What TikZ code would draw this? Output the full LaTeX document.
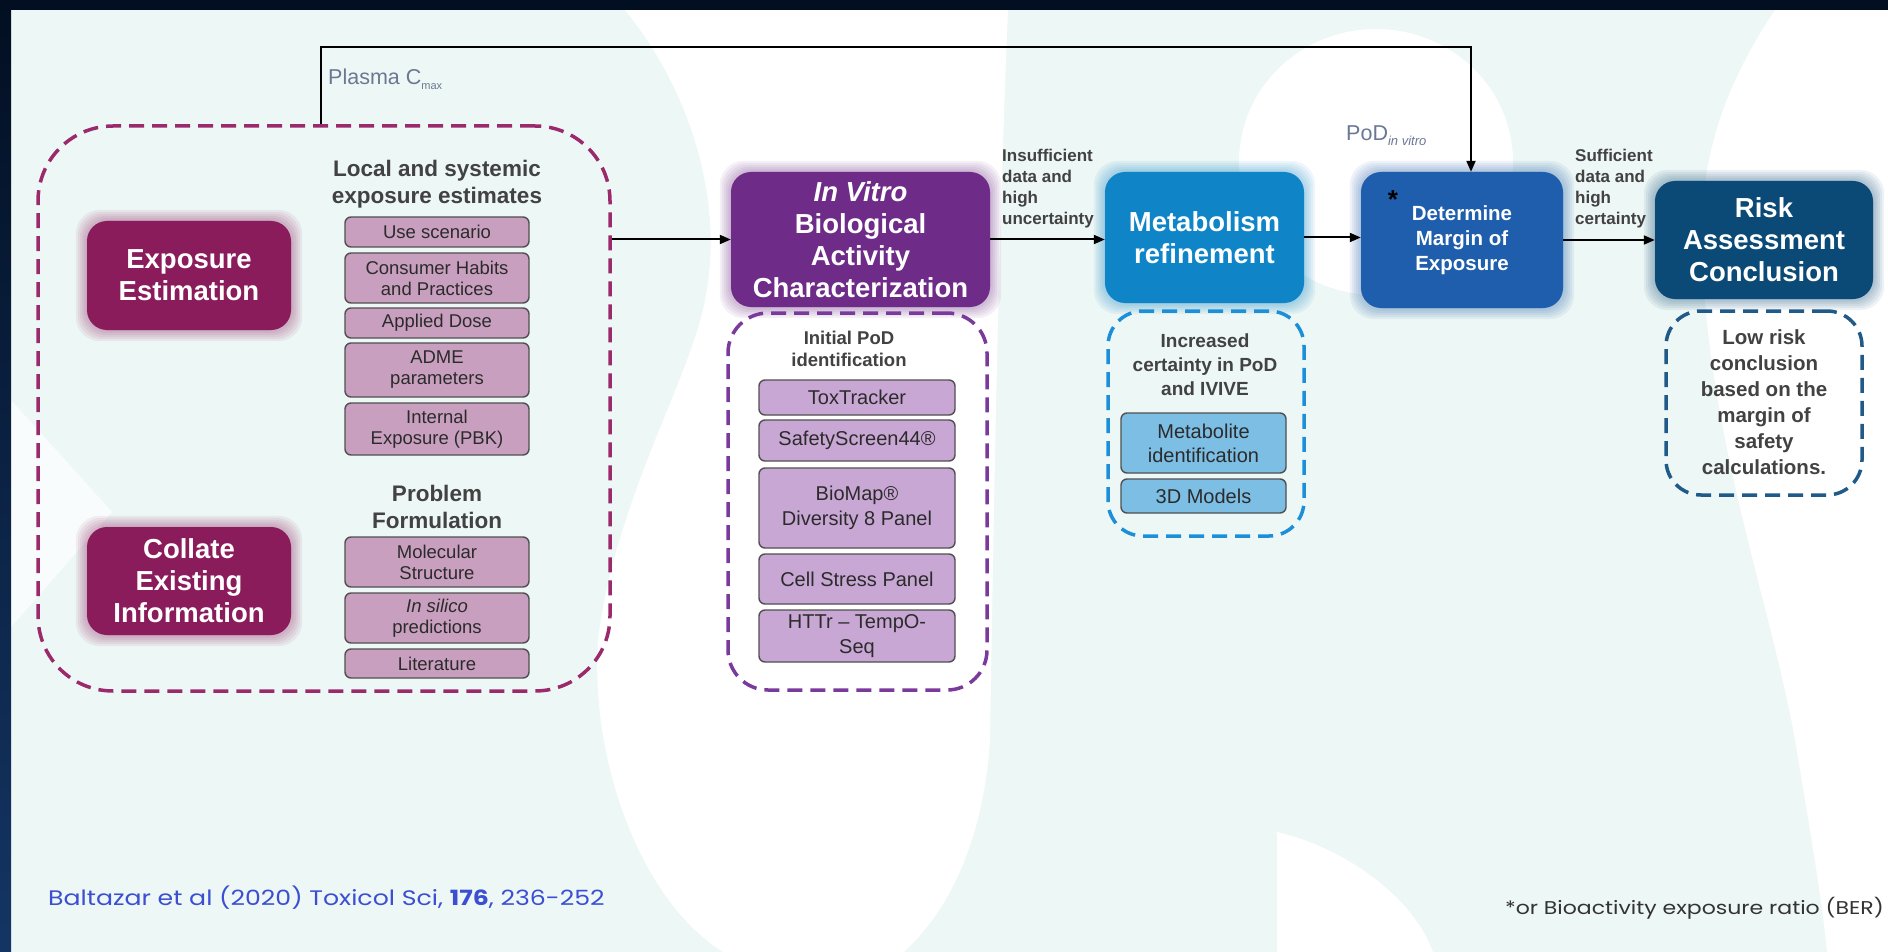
\documentclass[tikz,border=0pt]{standalone}
\usepackage{fontspec}
\setmainfont{Liberation Sans}
\newfontfamily\footfont{Poppins}
\usetikzlibrary{arrows.meta,calc}

\definecolor{bgmint}{HTML}{EDF7F5}
\definecolor{framenavy}{HTML}{020F22}
\definecolor{framelow}{HTML}{143564}
\definecolor{expfill}{HTML}{8A1C5C}
\definecolor{vitrofill}{HTML}{6E2B88}
\definecolor{metafill}{HTML}{0F85C8}
\definecolor{detfill}{HTML}{1F5EAC}
\definecolor{riskfill}{HTML}{0B4A76}
\definecolor{expdash}{HTML}{9B2A6C}
\definecolor{vitrodash}{HTML}{7A3A9C}
\definecolor{metadash}{HTML}{1B8FD8}
\definecolor{riskdash}{HTML}{1F5A88}
\definecolor{expitem}{HTML}{C99FBF}
\definecolor{vitroitem}{HTML}{C9A7D4}
\definecolor{metaitem}{HTML}{7DBEE5}
\definecolor{itemline}{HTML}{505050}
\definecolor{itemtext}{HTML}{2B2B2B}
\definecolor{headgray}{HTML}{424242}
\definecolor{labelgray}{HTML}{6B7893}
\definecolor{citeblue}{HTML}{3C4FD2}
\definecolor{foottext}{HTML}{333333}

\pgfdeclarelayer{under}
\pgfsetlayers{under,main}

% soft coloured halo behind a box
\newcommand{\halo}[2]{%
  \begin{pgfonlayer}{under}
    \foreach \d in {11,9,7,5,3,1} {
      \fill[#2, opacity=0.07, rounded corners=24pt]
        ($(#1.north west)+(-\d,-\d)$) rectangle ($(#1.south east)+(\d,\d)$);
    }
  \end{pgfonlayer}}

\tikzset{
  bigbox/.style={rectangle, rounded corners=20pt, inner sep=0pt, align=center,
    text=white, font=\bfseries\fontsize{27.5}{32}\selectfont},
  item/.style={rectangle, draw=itemline, line width=1.4pt, rounded corners=6pt,
    inner sep=0pt, align=center, text=itemtext},
  grp/.style={rectangle, draw, line width=3.5pt, dash pattern=on 15pt off 8pt,
    inner sep=0pt},
  head/.style={align=center, text=headgray, inner sep=0pt},
  cond/.style={align=left, text=headgray, inner sep=0pt,
    font=\bfseries\fontsize{17}{21}\selectfont},
  flow/.style={-{Triangle[length=11pt,width=9pt]}, line width=2pt, draw=black},
}

\begin{document}
\begin{tikzpicture}[x=1pt,y=-1pt]
\useasboundingbox (0,0) rectangle (1888,952);

% ---------- background ----------
\begin{pgfonlayer}{under}
  \fill[bgmint] (0,0) rectangle (1888,952);
  \fill[white] (625,10) .. controls (690,90) and (725,200) .. (705,300)
    .. controls (690,380) and (615,500) .. (598,640)
    .. controls (590,760) and (640,900) .. (723,952) -- (904,952)
    .. controls (960,900) and (985,820) .. (990,740)
    .. controls (994,500) and (998,250) .. (1008,10) -- cycle;
  \fill[white] (1376,162) ellipse [x radius=137, y radius=133];
  \fill[white] (1775,10) .. controls (1735,70) and (1702,140) .. (1702,230)
    .. controls (1702,420) and (1770,600) .. (1795,740)
    .. controls (1810,830) and (1822,900) .. (1827,952)
    -- (1888,952) -- (1888,10) -- cycle;
  \fill[white] (1277,952) -- (1277,832) .. controls (1335,845) and (1410,890) .. (1433,952) -- cycle;
  \fill[white, opacity=0.7] (11,400) -- (112,512) -- (11,627) -- cycle;
  \fill[framenavy] (0,0) rectangle (1888,10);
  \shade[top color=framenavy, bottom color=framelow] (0,0) rectangle (11,952);
\end{pgfonlayer}

% ---------- exposure column ----------
\node[grp, draw=expdash, rounded corners=75pt, minimum width=572pt, minimum height=565pt]
  (expgrp) at (324,408.5) {};
\node[bigbox, fill=expfill, minimum width=204pt, minimum height=109pt]
  (expo) at (189,275.5) {Exposure\\Estimation};
\node[bigbox, fill=expfill, minimum width=204pt, minimum height=108pt]
  (collate) at (189,581) {Collate\\Existing\\Information};
\halo{expo}{expfill}
\halo{collate}{expfill}

\node[head, font=\bfseries\fontsize{22.5}{27.5}\selectfont] (localhead) at (437,184)
  {Local and systemic\\exposure estimates};
\tikzset{expitemstyle/.style={item, fill=expitem, minimum width=184pt,
  font=\fontsize{18.5}{21}\selectfont}}
\node[expitemstyle, minimum height=30pt] (use) at (437,232) {Use scenario};
\node[expitemstyle, minimum height=50pt] (habits) at (437,278) {Consumer Habits\\and Practices};
\node[expitemstyle, minimum height=30pt] (dose) at (437,323) {Applied Dose};
\node[expitemstyle, minimum height=54pt] (adme) at (437,370) {ADME\\parameters};
\node[expitemstyle, minimum height=52pt] (pbk) at (437,429) {Internal\\Exposure (PBK)};

\node[head, font=\bfseries\fontsize{22.5}{27.5}\selectfont] (probhead) at (437,507)
  {Problem\\Formulation};
\node[expitemstyle, minimum height=50pt] (mol) at (437,562) {Molecular\\Structure};
\node[expitemstyle, minimum height=50pt] (silico) at (437,618) {\textit{In silico}\\predictions};
\node[expitemstyle, minimum height=29pt] (lit) at (437,663.5) {Literature};

% ---------- in vitro column ----------
\node[bigbox, fill=vitrofill, minimum width=259pt, minimum height=135pt]
  (vitro) at (860.5,239.5) {\textit{In Vitro}\\Biological\\Activity\\Characterization};
\halo{vitro}{vitrofill}
\node[grp, draw=vitrodash, rounded corners=40pt, minimum width=259pt, minimum height=377pt]
  (vitrogrp) at (857.5,501.5) {};
\node[head, font=\bfseries\fontsize{18.5}{22}\selectfont] (podhead) at (849,349)
  {Initial PoD\\identification};
\tikzset{vitroitemstyle/.style={item, fill=vitroitem, minimum width=196pt,
  font=\fontsize{20}{25}\selectfont}}
\node[vitroitemstyle, minimum height=35pt] (tox) at (857,397.5) {ToxTracker};
\node[vitroitemstyle, minimum height=41pt] (safety) at (857,440.5) {SafetyScreen44®};
\node[vitroitemstyle, minimum height=80pt] (biomap) at (857,508) {BioMap®\\Diversity 8 Panel};
\node[vitroitemstyle, minimum height=50pt] (stress) at (857,579) {Cell Stress Panel};
\node[vitroitemstyle, minimum height=52pt] (httr) at (857,636) {HTTr – TempO-\\Seq};

% ---------- metabolism column ----------
\node[bigbox, fill=metafill, minimum width=199pt, minimum height=131pt]
  (meta) at (1204.5,237.5) {Metabolism\\refinement};
\halo{meta}{metafill}
\node[grp, draw=metadash, rounded corners=35pt, minimum width=196pt, minimum height=225pt]
  (metagrp) at (1206,423.5) {};
\node[head, font=\bfseries\fontsize{19}{24}\selectfont] (certhead) at (1205,365)
  {Increased\\certainty in PoD\\and IVIVE};
\tikzset{metaitemstyle/.style={item, fill=metaitem, minimum width=165pt,
  font=\fontsize{20}{24}\selectfont}}
\node[metaitemstyle, minimum height=60pt] (metid) at (1203.5,443) {Metabolite\\identification};
\node[metaitemstyle, minimum height=34pt] (models) at (1203.5,496) {3D Models};

% ---------- margin of exposure ----------
\node[bigbox, fill=detfill, minimum width=202pt, minimum height=136pt,
  font=\bfseries\fontsize{20.5}{25}\selectfont]
  (det) at (1462,240) {Determine\\Margin of\\Exposure};
\halo{det}{detfill}
\node[font=\bfseries\fontsize{26}{26}\selectfont, text=black, inner sep=0pt]
  (star) at (1393,200) {*};

% ---------- conclusion ----------
\node[bigbox, fill=riskfill, minimum width=218pt, minimum height=118pt]
  (risk) at (1764,240) {Risk\\Assessment\\Conclusion};
\halo{risk}{riskfill}
\node[grp, draw=riskdash, rounded corners=35pt, minimum width=196pt, minimum height=184pt]
  (riskgrp) at (1764,403) {};
\node[head, font=\bfseries\fontsize{20.5}{26}\selectfont] (lowrisk) at (1764,402)
  {Low risk\\conclusion\\based on the\\margin of\\safety\\calculations.};

% ---------- connectors ----------
\draw[flow] (expgrp.east |- vitro.west) -- (vitro.west);
\draw[flow] (vitro.east) -- (vitro.east -| meta.west);
\draw[flow] (meta.east) -- (meta.east -| det.west);
\draw[flow] (det.east) -- (det.east -| risk.west);

\coordinate (fbtop) at (321,47);
\coordinate (fbdown) at (1471,47);
\draw[flow] (expgrp.north -| fbtop) -- (fbtop) -- (fbdown) -- (fbdown |- det.north);

% ---------- labels ----------
\node[anchor=west, text=labelgray, inner sep=0pt, font=\fontsize{21.5}{21.5}\selectfont]
  (plasma) at (328,79) {Plasma C\raisebox{-5pt}{\fontsize{11}{11}\selectfont max}};
\node[anchor=west, text=labelgray, inner sep=0pt, font=\fontsize{21.5}{21.5}\selectfont]
  (pod) at (1346,136) {PoD\raisebox{-5pt}{\fontsize{13}{13}\selectfont\itshape in vitro}};
\node[cond, anchor=north west] (insuff) at (1002,149)
  {Insufficient\\data and\\high\\uncertainty};
\node[cond, anchor=north west] (suff) at (1575,149)
  {Sufficient\\data and\\high\\certainty};

\node[anchor=base west, inner sep=0pt, text=citeblue,
  font=\footfont\fontsize{21}{21}\selectfont] (cite) at (48,905)
  {\scalebox{1.2}[1]{Baltazar et al (2020) Toxicol Sci, \textbf{176}, 236-252}};
\node[anchor=base east, inner sep=0pt, text=foottext,
  font=\footfont\fontsize{18.5}{18.5}\selectfont] (foot) at (1884,914)
  {\scalebox{1.19}[1]{*or Bioactivity exposure ratio (BER)}};
\end{tikzpicture}
\end{document}
